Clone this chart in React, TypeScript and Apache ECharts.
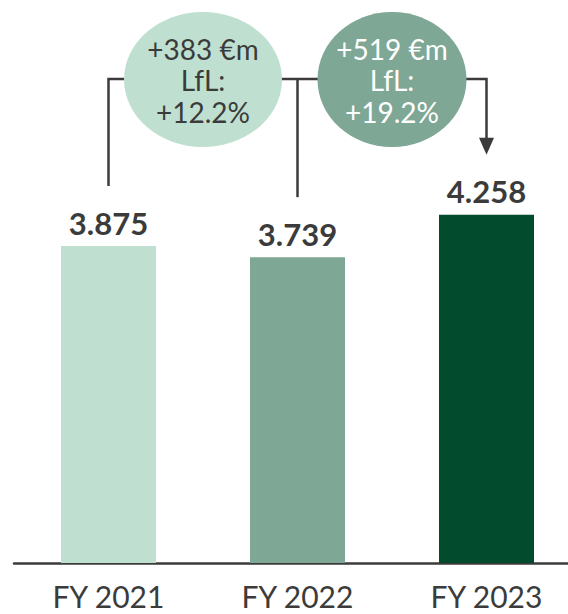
import React, { useEffect, useRef } from "react";
import * as echarts from "echarts";

const categories = ["FY 2021", "FY 2022", "FY 2023"];
const values = [3.875, 3.739, 4.258];
const barColors = ["#bfe0d0", "#7fa795", "#024b2c"];
const bubbleTexts = ["+383 €m\nLfL:\n+12.2%", "+519 €m\nLfL:\n+19.2%"];
const bubbleColors = ["#bfe0d0", "#7fa795"];
const bubbleTextColors = ["#3b3b3b", "#ffffff"];

const DARK = "#3b3b3b";
const FONT = "Lato";

export default function App() {
  const ref = useRef<HTMLDivElement>(null);
  useEffect(() => {
    if (!ref.current) return;
    const chart = echarts.init(ref.current, null, { renderer: "svg" });
    chart.setOption({
      animation: false,
      grid: { left: 14, width: 567, top: 154, height: 409, outerBoundsMode: "none", containLabel: false },
      xAxis: {
        type: "category",
        data: categories,
        axisLine: { lineStyle: { color: DARK, width: 2.5 } },
        axisTick: { show: false },
        axisLabel: { color: DARK, fontFamily: FONT, fontSize: 30, margin: 18 },
      },
      yAxis: { type: "value", min: 0, max: 5, show: false, splitLine: { show: false } },
      series: [
        {
          type: "bar",
          barWidth: 95,
          data: values.map((v, i) => ({ value: v, itemStyle: { color: barColors[i] } })),
          label: {
            show: true,
            position: "top",
            distance: 8,
            color: DARK,
            fontFamily: FONT,
            fontWeight: "bold",
            fontSize: 31,
            formatter: (p: any) => Number(p.value).toFixed(3),
          },
        },
      ],
    });

    const pts = values.map((v, i) => chart.convertToPixel({ gridIndex: 0 }, [i, v]) as number[]);
    const xs = pts.map((p) => p[0]);
    const tops = pts.map((p) => p[1]);
    const lineY = 79;
    const ends = tops.map((t) => t - 60);
    const arrowH = 17;
    const bubbles = [
      { cx: (xs[0] + xs[1]) / 2, rx: 79 },
      { cx: (xs[1] + xs[2]) / 2, rx: 74.5 },
    ];
    const lineStyle = { stroke: DARK, lineWidth: 2.5, fill: "none" };

    chart.setOption({
      graphic: [
        {
          type: "polyline",
          z: 1,
          shape: {
            points: [
              [xs[0], ends[0]],
              [xs[0], lineY],
              [xs[2], lineY],
              [xs[2], ends[2] - arrowH + 1],
            ],
          },
          style: lineStyle,
        },
        {
          type: "line",
          z: 1,
          shape: { x1: xs[1], y1: lineY, x2: xs[1], y2: ends[1] },
          style: lineStyle,
        },
        {
          type: "polygon",
          z: 1,
          shape: {
            points: [
              [xs[2] - 7.5, ends[2] - arrowH],
              [xs[2] + 7.5, ends[2] - arrowH],
              [xs[2], ends[2]],
            ],
          },
          style: { fill: DARK },
        },
        ...bubbles.map((b, i) => ({
          type: "ellipse",
          z: 5,
          shape: { cx: b.cx, cy: 79.5, rx: b.rx, ry: 67.5 },
          style: { fill: bubbleColors[i] },
        })),
        ...bubbles.map((b, i) => ({
          type: "text",
          z: 6,
          x: b.cx,
          y: 80,
          style: {
            text: bubbleTexts[i],
            fill: bubbleTextColors[i],
            fontFamily: FONT,
            fontSize: 28,
            lineHeight: 31.5,
            align: "center",
            verticalAlign: "middle",
          },
        })),
      ],
    });

    return () => chart.dispose();
  }, []);
  return (
    <div
      ref={ref}
      style={{ position: "fixed", left: 0, top: 0, width: 568, height: 614, background: "#fff" }}
    />
  );
}
